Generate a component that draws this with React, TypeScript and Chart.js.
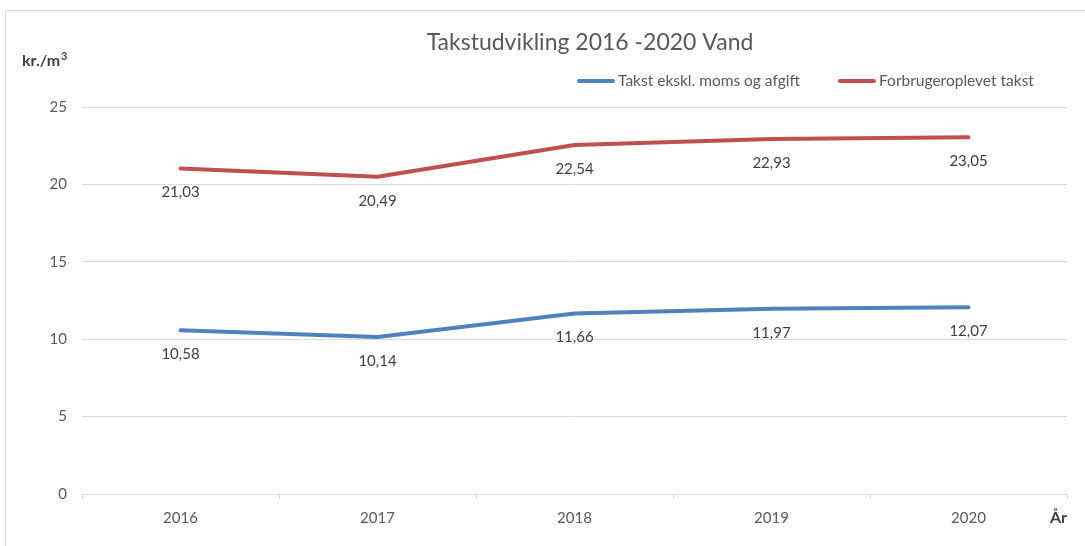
import React, { useEffect, useRef } from "react";
import { Chart, registerables } from "chart.js";

Chart.register(...registerables);

const years = ["2016", "2017", "2018", "2019", "2020"];
const takstEksklMoms = [10.58, 10.14, 11.66, 11.97, 12.07];
const forbrugeroplevetTakst = [21.03, 20.49, 22.54, 22.93, 23.05];
const seriesNames = ["Takst ekskl. moms og afgift", "Forbrugeroplevet takst"];
const seriesColors = ["#4F81BD", "#C0504D"];
const titleText = "Takstudvikling 2016 -2020 Vand";
const yTitleBase = "kr./m";
const yTitleSup = "3";
const xTitle = "År";

const FONT = "Lato, 'Open Sans', sans-serif";
const TEXT = "#595959";

const overlayPlugin = {
  id: "overlay",
  beforeDraw(chart: any) {
    const ctx = chart.ctx;
    ctx.save();
    ctx.strokeStyle = "#d9d9d9";
    ctx.lineWidth = 1;
    ctx.strokeRect(5.5, 10.5, 1200, 700);
    ctx.restore();
  },
  afterDatasetsDraw(chart: any) {
    const ctx = chart.ctx;
    const area = chart.chartArea;
    ctx.save();
    // title
    ctx.fillStyle = TEXT;
    ctx.font = `23px ${FONT}`;
    ctx.textAlign = "center";
    ctx.textBaseline = "middle";
    ctx.fillText(titleText, 590, 43);

    // axis titles
    ctx.font = `bold 16px ${FONT}`;
    ctx.fillStyle = "#404040";
    ctx.textAlign = "left";
    ctx.fillText(yTitleBase, 22, 61);
    const w = ctx.measureText(yTitleBase).width;
    ctx.font = `bold 11px ${FONT}`;
    ctx.fillText(yTitleSup, 22 + w + 1, 56);
    ctx.font = `bold 16px ${FONT}`;
    ctx.textAlign = "right";
    ctx.fillText(xTitle, area.right, 518);

    // legend
    ctx.font = `15.5px ${FONT}`;
    ctx.textAlign = "left";
    ctx.fillStyle = TEXT;
    const legendX = [577, 838];
    chart.data.datasets.forEach((ds: any, i: number) => {
      const x = legendX[i];
      ctx.strokeStyle = ds.borderColor;
      ctx.lineWidth = 4;
      ctx.lineCap = "round";
      ctx.beginPath();
      ctx.moveTo(x + 2, 81);
      ctx.lineTo(x + 36, 81);
      ctx.stroke();
      ctx.fillText(ds.label, x + 41, 81);
    });

    // data labels
    ctx.font = `15px ${FONT}`;
    ctx.fillStyle = "#404040";
    ctx.textAlign = "center";
    chart.data.datasets.forEach((ds: any, i: number) => {
      const meta = chart.getDatasetMeta(i);
      meta.data.forEach((pt: any, j: number) => {
        const v = ds.data[j] as number;
        ctx.fillText(v.toFixed(2).replace(".", ","), pt.x, pt.y + 24);
      });
    });
    ctx.restore();
  },
};

export default function App() {
  const ref = useRef<HTMLCanvasElement | null>(null);
  useEffect(() => {
    document.body.style.margin = "0";
    const canvas = ref.current!;
    const chart = new Chart(canvas, {
      type: "line",
      data: {
        labels: years,
        datasets: [
          {
            label: seriesNames[0],
            data: takstEksklMoms,
            borderColor: seriesColors[0],
            backgroundColor: seriesColors[0],
            borderWidth: 4,
            pointRadius: 0,
            borderCapStyle: "round",
            borderJoinStyle: "round",
            tension: 0,
          },
          {
            label: seriesNames[1],
            data: forbrugeroplevetTakst,
            borderColor: seriesColors[1],
            backgroundColor: seriesColors[1],
            borderWidth: 4,
            pointRadius: 0,
            borderCapStyle: "round",
            borderJoinStyle: "round",
            tension: 0,
          },
        ],
      },
      options: {
        responsive: false,
        animation: false,
        layout: { padding: { top: 107, right: 18, left: 0, bottom: 0 } },
        plugins: {
          legend: { display: false },
          title: { display: false },
          tooltip: { enabled: false },
        },
        scales: {
          x: {
            offset: true,
            grid: {
              display: true,
              offset: true,
              drawOnChartArea: false,
              drawTicks: true,
              tickLength: 5,
              color: "#d9d9d9",
            },
            border: { display: true, color: "#d9d9d9" },
            ticks: {
              color: TEXT,
              font: { family: FONT, size: 15 },
              padding: 10,
              maxRotation: 0,
            },
            afterFit(scale: any) {
              scale.height = 52;
            },
          },
          y: {
            min: 0,
            max: 25,
            grid: { color: "#d9d9d9", drawTicks: false },
            border: { display: false },
            ticks: {
              stepSize: 5,
              color: TEXT,
              font: { family: FONT, size: 15 },
              padding: 15,
            },
            afterFit(scale: any) {
              scale.width = 82;
            },
          },
        },
      },
      plugins: [overlayPlugin],
    });
    return () => chart.destroy();
  }, []);
  return <canvas ref={ref} width={1085} height={546} style={{ display: "block" }} />;
}
